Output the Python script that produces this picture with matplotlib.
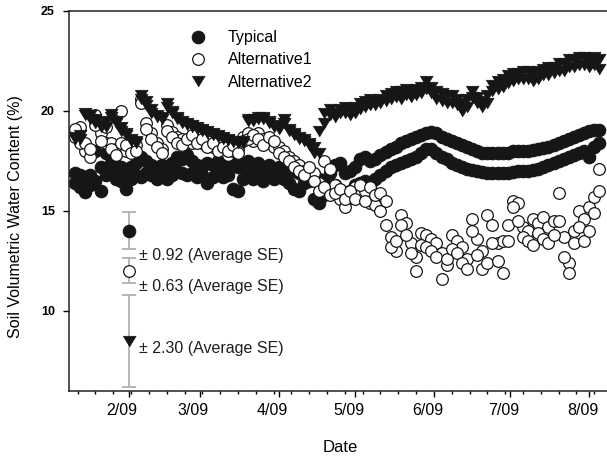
import numpy as np
import pandas as pd
import matplotlib
matplotlib.use('Agg')
import matplotlib.pyplot as plt
import matplotlib.dates as mdates
import matplotlib.transforms as mtransforms
from matplotlib.ticker import FuncFormatter

# sampling dates (every second day, Jan 11 - Aug 5 2009)
dates = pd.date_range('2009-01-11', periods=104, freq='2D')

# Typical: two readings per date (upper / lower band)
typical_hi = [16.9, 16.8, 16.7, 16.8, 18.0, 17.2, 17.9, 17.4, 17.3, 17.2, 17.0, 17.2, 17.4,
              17.7, 17.5, 17.3, 17.2, 17.3, 17.1, 17.4, 17.7, 17.6, 17.8, 17.5, 17.3, 17.2,
              17.4, 17.3, 17.5, 17.3, 17.6, 17.4, 17.2, 17.4, 17.5, 17.3, 17.4, 17.2, 17.3,
              17.1, 17.2, 17.0, 17.2, 17.0, 16.9, 17.0, 16.9, 16.8, 16.6, 16.4, 16.9, 17.3,
              17.4, 16.9, 17.0, 17.2, 17.6, 17.7, 17.5, 17.6, 17.8, 17.95, 18.1, 18.2, 18.4,
              18.5, 18.6, 18.7, 18.8, 18.9, 18.95, 18.9, 18.7, 18.6, 18.5, 18.4, 18.3, 18.2,
              18.1, 18.0, 17.9, 17.9, 17.9, 17.9, 17.9, 17.9, 18.0, 18.0, 18.0, 18.0, 18.05,
              18.1, 18.15, 18.2, 18.3, 18.4, 18.5, 18.6, 18.7, 18.8, 18.9, 19.0, 19.05, 19.05]
typical_lo = [16.4, 16.2, 15.95, 16.3, 16.5, 16.0, 16.8, 16.9, 16.6, 16.5, 16.1, 16.6, 16.8,
              16.7, 16.9, 16.8, 16.6, 16.9, 16.6, 16.8, 17.0, 16.9, 16.8, 16.9, 16.7, 16.8,
              16.4, 16.7, 16.9, 16.7, 16.8, 16.1, 16.0, 16.6, 16.8, 16.6, 16.7, 16.5, 16.8,
              16.6, 16.7, 16.6, 16.4, 16.1, 16.0, 16.4, 16.5, 15.6, 15.4, 15.8, 16.2, 16.3,
              15.8, 15.5, 16.0, 16.3, 16.4, 16.5, 16.3, 16.6, 16.8, 17.0, 17.2, 17.3, 17.4,
              17.5, 17.6, 17.7, 17.9, 18.1, 18.1, 17.9, 17.7, 17.6, 17.4, 17.3, 17.2, 17.1,
              17.05, 17.0, 16.95, 16.9, 16.9, 16.9, 16.9, 16.9, 16.95, 17.0, 17.0, 17.0, 17.05,
              17.1, 17.2, 17.3, 17.4, 17.5, 17.6, 17.7, 17.8, 17.9, 18.0, 17.7, 18.2, 18.4]

# Alternative1
alt1_a = [18.7, 19.2, 18.0, 17.7, 19.8, 18.9, 18.4, 18.4, 18.1, 20.0, 18.0, 18.2, 18.3,
          20.6, 19.4, 18.9, 18.4, 18.1, 19.3, 18.95, 18.7, 18.6, 18.4, 18.4, 18.7, 18.4,
          18.5, 18.2, 18.3, 18.0, 17.8, 18.0, 18.1, 18.7, 18.9, 18.5, 18.9, 18.6, 18.4,
          18.2, 18.2, 18.0, 17.7, 17.5, 17.3, 17.0, 16.9, 16.9, 16.4, 17.5, 17.1, 16.3,
          15.6, 15.2, 15.8, 16.2, 15.8, 16.0, 15.4, 15.3, 15.0, 14.3, 13.7, 13.0, 14.8,
          14.4, 13.4, 12.7, 13.9, 13.8, 13.6, 13.4, 12.9, 12.3, 13.8, 13.5, 13.2, 12.6,
          14.6, 13.6, 13.0, 14.8, 14.3, 13.4, 13.5, 14.3, 15.5, 15.4, 14.2, 14.0, 14.6,
          14.4, 14.7, 14.2, 14.5, 15.9, 13.7, 12.4, 14.0, 15.0, 14.6, 15.2, 15.7, 17.1]
alt1_b = [19.1, 18.4, 18.4, 18.1, 19.3, 18.5, 19.2, 18.1, 17.8, 18.4, 18.3, 17.9, 18.0,
          20.4, 19.1, 18.6, 18.2, 17.9, 19.0, 18.7, 18.4, 18.3, 18.6, 18.8, 18.4, 18.6,
          18.2, 18.4, 18.0, 18.2, 18.0, 18.3, 17.9, 18.5, 18.6, 18.8, 18.6, 18.3, 18.7,
          18.5, 17.9, 17.7, 17.5, 17.2, 17.0, 16.8, 17.2, 16.5, 16.0, 16.2, 15.8, 15.9,
          16.1, 15.6, 16.0, 15.6, 16.3, 15.5, 16.2, 15.8, 15.9, 15.5, 13.2, 13.5, 14.3,
          13.8, 12.9, 12.0, 13.3, 13.2, 13.0, 12.7, 11.6, 12.6, 13.1, 12.9, 12.4, 12.1,
          14.0, 12.8, 12.1, 12.4, 13.4, 12.5, 11.9, 13.5, 15.2, 14.5, 13.7, 13.5, 13.3,
          13.9, 13.6, 13.4, 13.8, 14.5, 12.7, 11.9, 13.4, 14.2, 13.5, 14.0, 14.9, 16.0]

# Alternative2
alt2_a = [18.7, 18.6, 19.9, 19.8, 19.6, 19.3, 19.2, 19.85, 19.5, 19.2, 18.9, 18.6, 18.5,
          20.8, 20.5, 20.1, 19.8, 19.7, 20.4, 20.0, 19.7, 19.5, 19.4, 19.3, 19.2, 19.1,
          19.0, 18.9, 18.8, 18.7, 18.6, 18.5, 18.45, 18.5, 19.6, 19.6, 19.6, 19.7, 19.5,
          19.3, 19.1, 19.6, 19.1, 18.9, 18.7, 18.6, 18.4, 18.2, 17.9, 19.9, 20.1, 19.9,
          20.1, 20.2, 20.1, 20.2, 20.4, 20.5, 20.6, 20.5, 20.6, 20.8, 20.9, 21.0, 21.0,
          21.1, 21.0, 21.1, 21.2, 21.5, 21.2, 21.0, 20.9, 20.8, 20.8, 20.6, 20.4, 20.6,
          21.0, 20.7, 20.5, 20.8, 21.3, 21.5, 21.6, 21.8, 21.9, 21.9, 22.0, 22.0, 21.9,
          22.0, 22.1, 22.2, 22.2, 22.4, 22.4, 22.6, 22.6, 22.7, 22.7, 22.6, 22.7, 22.6]
alt2_b = [18.6, 18.8, 19.8, 19.6, 19.4, 19.2, 19.5, 19.7, 19.4, 19.0, 18.8, 18.5, 18.4,
          20.6, 20.3, 19.9, 19.7, 19.6, 20.2, 19.9, 19.6, 19.4, 19.3, 19.2, 19.1, 19.0,
          18.9, 18.8, 18.7, 18.6, 18.55, 18.45, 18.4, 18.4, 19.5, 19.5, 19.7, 19.6, 19.4,
          19.2, 19.2, 19.4, 19.0, 18.8, 18.6, 18.5, 18.3, 17.9, 19.0, 19.4, 19.8, 19.7,
          19.9, 19.9, 19.8, 19.9, 20.1, 20.2, 20.3, 20.3, 20.4, 20.5, 20.6, 20.7, 20.6,
          20.8, 20.7, 20.8, 20.9, 21.1, 20.9, 20.6, 20.5, 20.4, 20.4, 20.3, 20.0, 20.2,
          20.7, 20.4, 20.2, 20.4, 21.0, 21.1, 21.2, 21.4, 21.5, 21.6, 21.6, 21.6, 21.5,
          21.6, 21.8, 21.8, 21.9, 22.0, 22.0, 22.2, 22.2, 22.3, 22.3, 22.2, 22.3, 22.1]

# average standard errors shown at 2/09
se_date = pd.Timestamp('2009-02-01')
se_means = [14.0, 12.0, 8.5]
se_values = [0.92, 0.63, 2.30]
se_labels = ['± 0.92 (Average SE)', '± 0.63 (Average SE)', '± 2.30 (Average SE)']
se_label_y = [12.75, 11.2, 8.1]

plt.rcParams['font.family'] = ['Liberation Sans', 'DejaVu Sans']

ink = '#161616'
tri = [(-1.0, 0.8), (1.0, 0.8), (0.0, -0.85)]
styles = [
    dict(marker='o', ms=9.0, mfc=ink, mec=ink, mew=0.8, ls='none'),
    dict(marker='o', ms=8.4, mfc='white', mec=ink, mew=0.9, ls='none'),
    dict(marker=tri, ms=9.4, mfc=ink, mec=ink, mew=0.5, ls='none'),
]

fig = plt.figure(figsize=(6.07, 4.63), dpi=100)
ax = fig.add_axes([0.1132, 0.1562, 0.8868, 0.8207])

d2 = dates.append(dates)
ax.plot(d2, typical_hi + typical_lo, label='Typical', **styles[0])
ax.plot(d2, alt1_a + alt1_b, label='Alternative1', **styles[1])
ax.plot(d2, alt2_a + alt2_b, label='Alternative2', **styles[2])

ax.errorbar([se_date] * 3, se_means, yerr=se_values, fmt='none', ecolor='#b5b5b5',
            elinewidth=1.4, capsize=5, capthick=1.4, zorder=3)
for m, st in zip(se_means, styles):
    ax.plot([se_date], [m], zorder=4, **st)
for lab, y in zip(se_labels, se_label_y):
    ax.annotate(lab, xy=(se_date, y), xytext=(7.5, 0), textcoords='offset points',
                va='center', ha='left', fontsize=11.5, color='#1e1e1e')

ax.set_xlim(pd.Timestamp('2009-01-08 12:00'), pd.Timestamp('2009-08-08'))
ax.set_ylim(6, 25)
ax.set_yticks([10, 15, 20, 25])

ax.xaxis.set_major_locator(mdates.MonthLocator(bymonth=range(2, 9)))
ax.xaxis.set_minor_locator(mdates.WeekdayLocator(byweekday=mdates.MO))
ax.xaxis.set_major_formatter(FuncFormatter(
    lambda v, pos: '%d/%s' % (mdates.num2date(v).month, mdates.num2date(v).strftime('%y'))))

ax.spines['right'].set_visible(False)
for s in ['left', 'bottom', 'top']:
    ax.spines[s].set_linewidth(1.1)
    ax.spines[s].set_color('#222222')

ax.tick_params(axis='y', direction='out', length=4, width=1, pad=6, labelsize=9)
ax.tick_params(axis='x', which='major', direction='out', length=4, width=1, pad=5, labelsize=11.5)
ax.tick_params(axis='x', which='minor', direction='out', length=2.5, width=1)
for lbl in ax.get_yticklabels():
    lbl.set_fontweight('bold')

ax.set_ylabel('Soil Volumetric Water Content (%)', fontsize=11.5)
ax.yaxis.set_label_coords(-0.084, 0.457)
ax.set_xlabel('Date', fontsize=12)
ax.xaxis.set_label_coords(0.505, -0.13)

ax.legend(loc='upper left', bbox_to_anchor=(0.2255, 0.948), frameon=False, borderpad=0,
          borderaxespad=0, handlelength=1.0, handletextpad=1.375, labelspacing=0.44,
          fontsize=11.5)

fig.canvas.draw()
shift = mtransforms.ScaledTranslation(-4.7 / 72, 0, fig.dpi_scale_trans)
for lbl in ax.get_xticklabels():
    lbl.set_transform(lbl.get_transform() + shift)

fig.savefig('out.png', dpi=100)
